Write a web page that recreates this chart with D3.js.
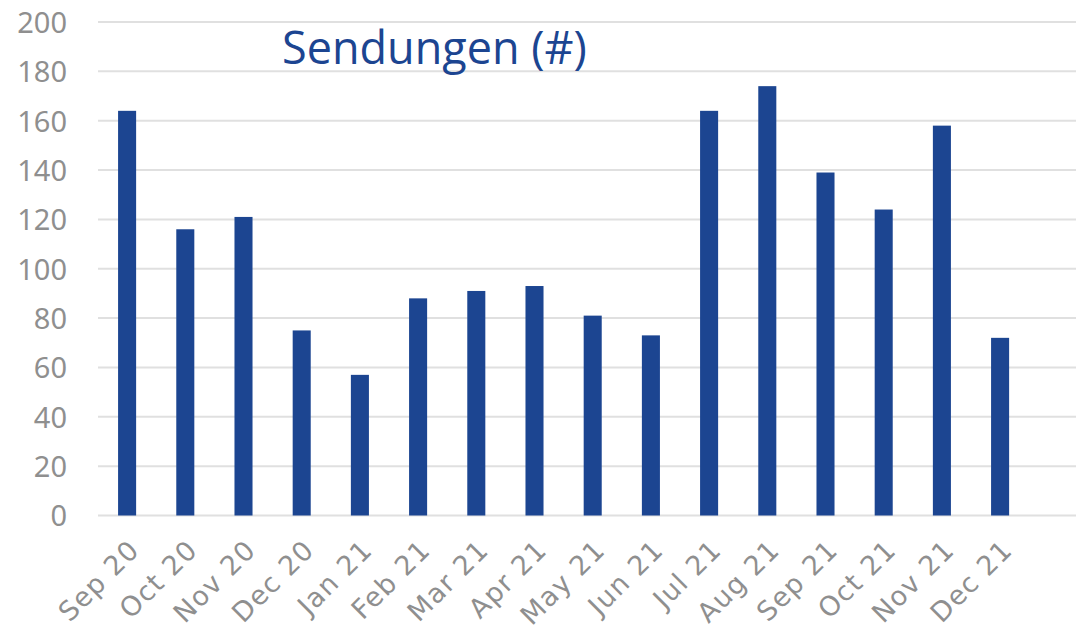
<!DOCTYPE html>
<html>
<head>
<meta charset="utf-8">
<script src="https://cdn.jsdelivr.net/npm/d3@7"></script>
<style>
  body { margin: 0; background: #fff; }
</style>
</head>
<body>
<div id="viz"></div>
<script>
// chart data
const months = ["Sep 20", "Oct 20", "Nov 20", "Dec 20", "Jan 21", "Feb 21", "Mar 21", "Apr 21",
                "May 21", "Jun 21", "Jul 21", "Aug 21", "Sep 21", "Oct 21", "Nov 21", "Dec 21"]
const shipments = [164, 116, 121, 75, 57, 88, 91, 93, 81, 73, 164, 174, 139, 124, 158, 72]
const yTicks = [0, 20, 40, 60, 80, 100, 120, 140, 160, 180, 200]
const chartTitle = "Sendungen (#)"

const width = 1076
const height = 634
const left = 98
const step = 58.2

const svg = d3.select("#viz").append("svg")
  .attr("width", width)
  .attr("height", height)

const x = d3.scaleBand()
  .domain(months)
  .range([left, left + step * months.length])
  .paddingInner(0.69)
  .paddingOuter(0.345)

const y = d3.scaleLinear()
  .domain([0, 200])
  .range([515.5, 22])

// gridlines
svg.append("g")
  .selectAll("line")
  .data(yTicks)
  .enter()
  .append("line")
    .attr("x1", left)
    .attr("x2", width)
    .attr("y1", d => y(d))
    .attr("y2", d => y(d))
    .attr("stroke", "#e0e0e0")
    .attr("stroke-width", 2)

// y axis labels
const yAxis = svg.append("g")
  .attr("transform", `translate(${67},0)`)
  .call(d3.axisLeft(y).tickValues(yTicks).tickSize(0).tickPadding(0))
yAxis.select(".domain").remove()
yAxis.selectAll("text")
  .attr("font-family", "'Noto Sans', sans-serif")
  .attr("font-size", 29)
  .attr("fill", "#8f8f8f")
  .attr("dy", "0.36em")

// bars
svg.append("g")
  .selectAll("rect")
  .data(shipments)
  .enter()
  .append("rect")
    .attr("x", (d, i) => x(months[i]))
    .attr("width", x.bandwidth())
    .attr("y", d => y(d))
    .attr("height", d => y(0) - y(d))
    .attr("fill", "#1c4591")

// x axis labels
const xAxis = svg.append("g")
  .attr("transform", `translate(0,${y(0)})`)
  .call(d3.axisBottom(x).tickSize(0).tickPadding(0))
xAxis.select(".domain").remove()
xAxis.selectAll("text")
  .attr("font-family", "'DejaVu Sans', sans-serif")
  .attr("font-size", 27)
  .attr("letter-spacing", 1.2)
  .attr("fill", "#8f8f8f")
  .attr("text-anchor", "end")
  .attr("dy", 0)
  .attr("transform", "translate(14,36) rotate(-45)")

// title
svg.append("text")
  .attr("x", 282)
  .attr("y", 64)
  .attr("font-family", "'Open Sans', sans-serif")
  .attr("font-size", 45)
  .attr("fill", "#1c4591")
  .text(chartTitle)
</script>
</body>
</html>
